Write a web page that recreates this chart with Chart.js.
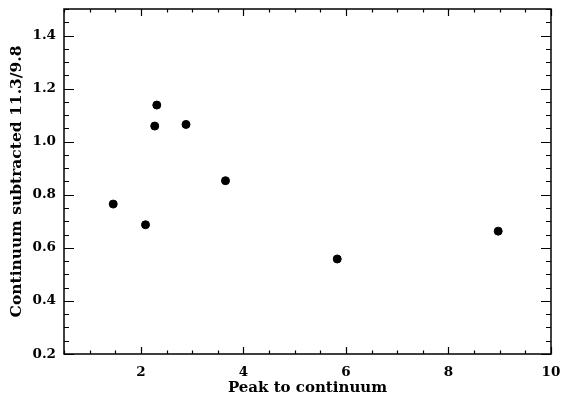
<!DOCTYPE html>
<html>
<head>
<meta charset="utf-8">
<script src="https://cdn.jsdelivr.net/npm/chart.js@4"></script>
<style>
  html, body { margin: 0; padding: 0; background: #fff; }
  #wrap { width: 561px; height: 398px; }
</style>
</head>
<body>
<div id="wrap"><canvas id="ratioChart"></canvas></div>
<script>
// data
const peakToCont = [1.46, 2.09, 2.27, 2.31, 2.88, 3.65, 5.83, 8.97];
const ratio113 = [0.765, 0.687, 1.059, 1.138, 1.065, 0.853, 0.558, 0.663];
const xTicks = [2, 4, 6, 8, 10];
const yTicks = [0.2, 0.4, 0.6, 0.8, 1.0, 1.2, 1.4];

const family = '"DejaVu Serif", serif';
const tickFont = { family, size: 13.5, weight: 'bold' };

// box + inward ticks on all four sides, like the IDL plot
const frameTicks = {
    id: 'frameTicks',
    afterDraw(chart) {
        const { ctx, chartArea: a, scales } = chart;
        const x = scales.x, y = scales.y;
        ctx.save();
        ctx.strokeStyle = '#000';
        ctx.lineWidth = 1.5;
        ctx.strokeRect(a.left, a.top, a.right - a.left, a.bottom - a.top);
        ctx.beginPath();
        for (let v = 0.5; v <= 10.001; v += 0.5) {
            const px = Math.round(x.getPixelForValue(v)) + 0.5;
            const len = Math.abs(v % 2) < 1e-6 ? 7 : 3.5;
            ctx.moveTo(px, a.bottom); ctx.lineTo(px, a.bottom - len);
            ctx.moveTo(px, a.top); ctx.lineTo(px, a.top + len);
        }
        for (let i = 4; i <= 30; i++) {
            const v = i * 0.05;
            const py = Math.round(y.getPixelForValue(v)) + 0.5;
            const len = i % 4 === 0 ? 10 : 5;
            ctx.moveTo(a.left, py); ctx.lineTo(a.left + len, py);
            ctx.moveTo(a.right, py); ctx.lineTo(a.right - len, py);
        }
        ctx.lineWidth = 1.2;
        ctx.stroke();
        ctx.restore();
    }
};

function noPad(s) {
    s.paddingLeft = 0; s.paddingRight = 0;
    s.paddingTop = 0; s.paddingBottom = 0;
}

new Chart(document.getElementById('ratioChart'), {
    type: 'scatter',
    data: {
        datasets: [{
            data: peakToCont.map((v, i) => ({ x: v, y: ratio113[i] })),
            backgroundColor: '#000',
            borderColor: '#000',
            pointRadius: 4,
            pointHoverRadius: 4
        }]
    },
    options: {
        responsive: true,
        maintainAspectRatio: false,
        animation: false,
        events: [],
        layout: { padding: { top: 9, right: 10, left: 0, bottom: 0 } },
        plugins: { legend: { display: false }, tooltip: { enabled: false } },
        scales: {
            x: {
                type: 'linear',
                min: 0.5,
                max: 10,
                afterBuildTicks: s => { s.ticks = xTicks.map(v => ({ value: v })); },
                afterFit: s => { s.height = 44; noPad(s); },
                grid: { display: false, drawTicks: false },
                border: { display: false },
                ticks: { color: '#000', font: tickFont, padding: 10, maxRotation: 0, callback: v => String(v) },
                title: { display: true, text: 'Peak to continuum', color: '#000', font: { family, size: 15, weight: 'bold' }, padding: { top: 0, bottom: 1 } }
            },
            y: {
                type: 'linear',
                min: 0.2,
                max: 1.5,
                afterBuildTicks: s => { s.ticks = yTicks.map(v => ({ value: v })); },
                afterFit: s => { s.width = 64; noPad(s); },
                grid: { display: false, drawTicks: false },
                border: { display: false },
                ticks: { color: '#000', font: tickFont, padding: 8, callback: v => v.toFixed(1) },
                title: { display: true, text: 'Continuum subtracted 11.3/9.8', color: '#000', font: { family, size: 15.5, weight: 'bold' }, padding: { top: 8, bottom: 0 } }
            }
        }
    },
    plugins: [frameTicks]
});
</script>
</body>
</html>
